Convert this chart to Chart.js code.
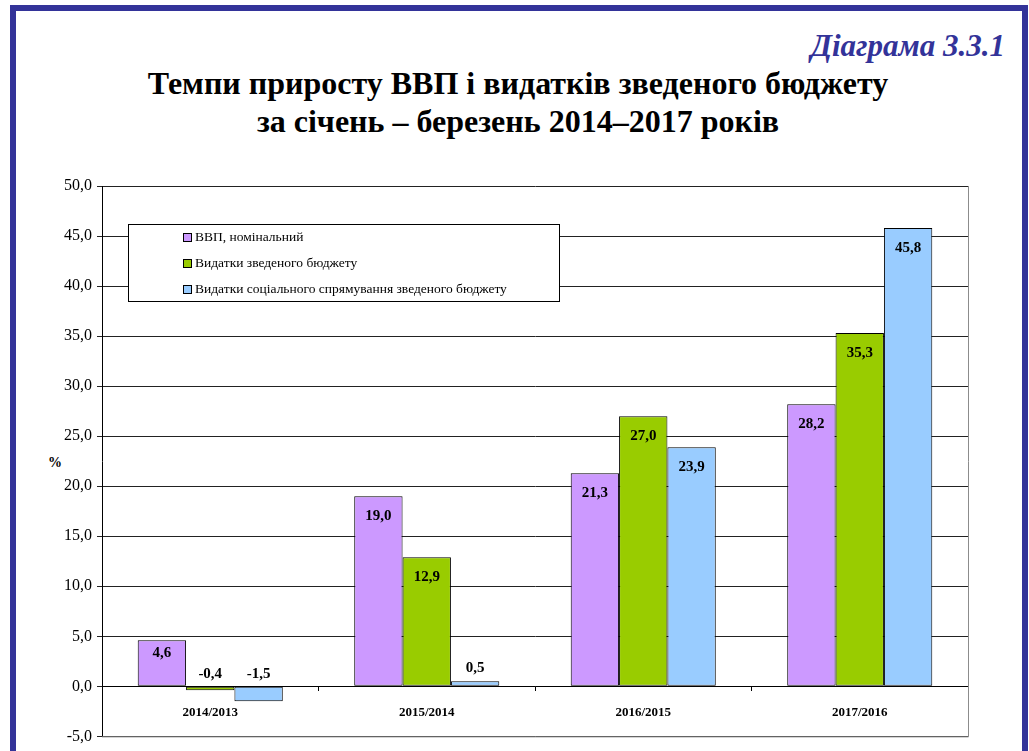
<!DOCTYPE html>
<html lang="uk">
<head>
<meta charset="utf-8">
<title>Діаграма 3.3.1</title>
<script src="https://cdn.jsdelivr.net/npm/chart.js@4.4.1/dist/chart.umd.min.js"></script>
<style>
  html, body { margin: 0; padding: 0; background: #fff; }
  #page { position: relative; width: 1029px; height: 751px; overflow: hidden; font-family: "Liberation Serif", "DejaVu Serif", serif; }
  #frame { position: absolute; left: 10px; top: 5px; width: 1018px; height: 800px; border: 6px solid #333399; box-sizing: border-box; }
  #num { position: absolute; right: 24px; top: 31px; font-size: 31px; line-height: 30px; font-weight: bold; font-style: italic; color: #333399; }
  #title { position: absolute; left: 0; top: 64px; width: 1036px; text-align: center; font-size: 32px; line-height: 38px; font-weight: bold; color: #000; }
  #unit { position: absolute; left: 48px; top: 455px; font-size: 14px; font-weight: bold; }
  #chartBox { position: absolute; left: 0; top: 0; width: 1029px; height: 751px; }
</style>
</head>
<body>
<div id="page">
  <div id="frame"></div>
  <div id="num">Діаграма 3.3.1</div>
  <div id="title">Темпи приросту ВВП і видатків зведеного бюджету<br>за січень – березень 2014–2017 років</div>
  <div id="unit">%</div>
  <div id="chartBox"><canvas id="chart" width="1029" height="751"></canvas></div>
</div>

<script>
// ------------------ DONNÉES ------------------
const categories = ['2014/2013', '2015/2014', '2016/2015', '2017/2016'];
const seriesNames = [
    'ВВП, номінальний',
    'Видатки зведеного бюджету',
    'Видатки соціального спрямування зведеного бюджету'
];
const gdpNominal     = [4.6, 19.0, 21.3, 28.2];
const budgetSpending = [-0.4, 12.9, 27.0, 35.3];
const socialSpending = [-1.5, 0.5, 23.9, 45.8];
const yMin = -5, yMax = 50, yStep = 5;

const colors = ['#CC99FF', '#99CC00', '#99CCFF'];
const serif = '"Liberation Serif", "DejaVu Serif", serif';

// format "12,9"
const fmt = v => v.toFixed(1).replace('.', ',');

// Valeurs affichées sur les barres
const valueLabels = {
    id: 'valueLabels',
    afterDatasetsDraw(chart) {
        const ctx = chart.ctx;
        ctx.save();
        ctx.font = 'bold 15px ' + serif;
        ctx.fillStyle = '#000';
        ctx.textAlign = 'center';
        ctx.textBaseline = 'middle';
        chart.data.datasets.forEach((ds, i) => {
            chart.getDatasetMeta(i).data.forEach((bar, j) => {
                const h = bar.base - bar.y;
                let y;
                if (h > 40) y = bar.y + Math.min(20, h / 3.5);
                else y = Math.min(bar.y, bar.base) - 13;
                ctx.fillText(fmt(ds.data[j]), bar.x, y);
            });
        });
        ctx.restore();
    }
};

// Cadre gris à droite et en bas
const plotBorder = {
    id: 'plotBorder',
    beforeDatasetsDraw(chart) {
        const { ctx, chartArea: a } = chart;
        ctx.save();
        ctx.strokeStyle = '#8c8c8c';
        ctx.lineWidth = 1;
        ctx.beginPath();
        ctx.moveTo(a.right + 0.5, a.top);
        ctx.lineTo(a.right + 0.5, a.bottom + 0.5);
        ctx.lineTo(a.left, a.bottom + 0.5);
        ctx.stroke();
        ctx.restore();
    }
};

// Légende encadrée dans la zone du graphique
const boxLegend = {
    id: 'boxLegend',
    afterDraw(chart) {
        const { ctx, chartArea } = chart;
        const x = chartArea.left + 26, y = chartArea.top + 38, w = 431, h = 77;
        ctx.save();
        ctx.fillStyle = '#fff';
        ctx.fillRect(x, y, w, h);
        ctx.strokeStyle = '#000';
        ctx.lineWidth = 1;
        ctx.strokeRect(x + 0.5, y + 0.5, w, h);
        ctx.font = '13.5px ' + serif;
        ctx.textBaseline = 'middle';
        chart.data.datasets.forEach((ds, i) => {
            const cy = y + 13 + i * 26;
            ctx.fillStyle = ds.backgroundColor;
            ctx.fillRect(x + 55, cy - 4, 8, 8);
            ctx.strokeRect(x + 55.5, cy - 3.5, 8, 8);
            ctx.fillStyle = '#000';
            ctx.fillText(ds.label, x + 67, cy);
        });
        ctx.restore();
    }
};

const datasets = [gdpNominal, budgetSpending, socialSpending].map((data, i) => ({
    label: seriesNames[i],
    data: data,
    backgroundColor: colors[i],
    borderColor: '#000',
    borderWidth: 1,
    borderSkipped: false,
    categoryPercentage: 0.67,
    barPercentage: 1
}));

new Chart(document.getElementById('chart'), {
    type: 'bar',
    data: { labels: categories, datasets: datasets },
    plugins: [plotBorder, valueLabels, boxLegend],
    options: {
        responsive: false,
        animation: false,
        devicePixelRatio: 1,
        layout: { padding: { top: 186, right: 61, bottom: 12, left: 0 } },
        plugins: {
            legend: { display: false },
            tooltip: { enabled: false }
        },
        scales: {
            x: {
                position: { y: 0 },
                grid: { drawOnChartArea: false, drawTicks: true, tickLength: 4, color: '#000', offset: true },
                border: { display: true, color: '#000' },
                ticks: { color: '#000', padding: 14, font: { family: serif, size: 13, weight: 'bold' } }
            },
            y: {
                min: yMin,
                max: yMax,
                afterFit: scale => { scale.width = 102; },
                grid: { color: '#222', tickLength: 5 },
                border: { display: true, color: '#000' },
                ticks: {
                    stepSize: yStep,
                    padding: 5,
                    color: '#000',
                    font: { family: serif, size: 16 },
                    callback: v => fmt(v)
                }
            }
        }
    }
});
</script>
</body>
</html>
